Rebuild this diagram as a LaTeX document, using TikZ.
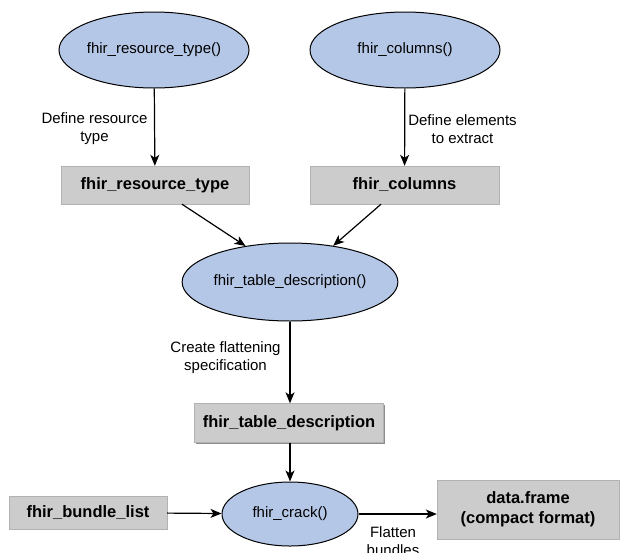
\documentclass[tikz,border=0pt]{standalone}
\usepackage{fontspec}
\setmainfont{Liberation Sans}
\usetikzlibrary{shapes.geometric,arrows.meta,shadows}
\definecolor{funcblue}{RGB}{180,199,231}
\definecolor{objgray}{RGB}{204,204,204}
\begin{document}
\begin{tikzpicture}[x=1pt,y=-1pt,
  func/.style={ellipse,draw=black,line width=1pt,fill=funcblue,inner sep=0pt,
    font=\fontsize{15}{18}\selectfont},
  obj/.style={rectangle,draw=black!30,fill=objgray,inner sep=0pt,align=center,
    copy shadow={shadow xshift=1.2pt,shadow yshift=-1.2pt,fill=black!45,draw=none},
    font=\fontsize{16.5}{20}\selectfont\bfseries},
  note/.style={align=center,font=\fontsize{15}{18}\selectfont},
  flow/.style={line width=1.2pt,-{Stealth[length=11pt,width=9pt,inset=3pt]}}]
\useasboundingbox (0,0) rectangle (620,552);
% functions
\node[func,minimum width=190,minimum height=76] (resfun) at (154,50) {fhir\_resource\_type()};
\node[func,minimum width=190,minimum height=76] (colfun) at (405,50) {fhir\_columns()};
\node[func,minimum width=190,minimum height=78] (descfun) at (290,282) {fhir\_table\_description()};
\node[func,minimum width=136,minimum height=64] (crackfun) at (290,514) {fhir\_crack()};
% objects
\node[obj,minimum width=188,minimum height=38] (restype) at (155,185) {fhir\_resource\_type};
\node[obj,minimum width=189,minimum height=38] (cols) at (404.5,185) {fhir\_columns};
\node[obj,minimum width=189,minimum height=39] (desc) at (289,423) {fhir\_table\_description};
\node[obj,minimum width=158,minimum height=33] (bundles) at (88,512.5) {fhir\_bundle\_list};
\node[obj,minimum width=182,minimum height=59] (frame) at (528,509.5) {data.frame\\(compact format)};
% labels
\node[note] (lbres) at (94.5,129) {Define resource\\type};
\node[note] (lbcol) at (462.5,129) {Define elements\\to extract};
\node[note] (lbdesc) at (225.5,358) {Create flattening\\specification};
\node[note] (lbflat) at (393,541) {Flatten\\bundles};
% connectors
\draw[flow] (resfun) -- (restype);
\draw[flow] (colfun) -- (cols);
\draw[flow] ([xshift=27pt]restype.south) -- (descfun.141);
\draw[flow] ([xshift=-23.5pt]cols.south) -- (descfun.40);
\draw[flow] (descfun) -- (descfun |- desc.north);
\draw[flow] (desc.south -| crackfun) -- (crackfun);
\draw[flow] (bundles) -- (crackfun);
\draw[flow] (crackfun.east) -- (frame.west |- crackfun.east);
\end{tikzpicture}
\end{document}
